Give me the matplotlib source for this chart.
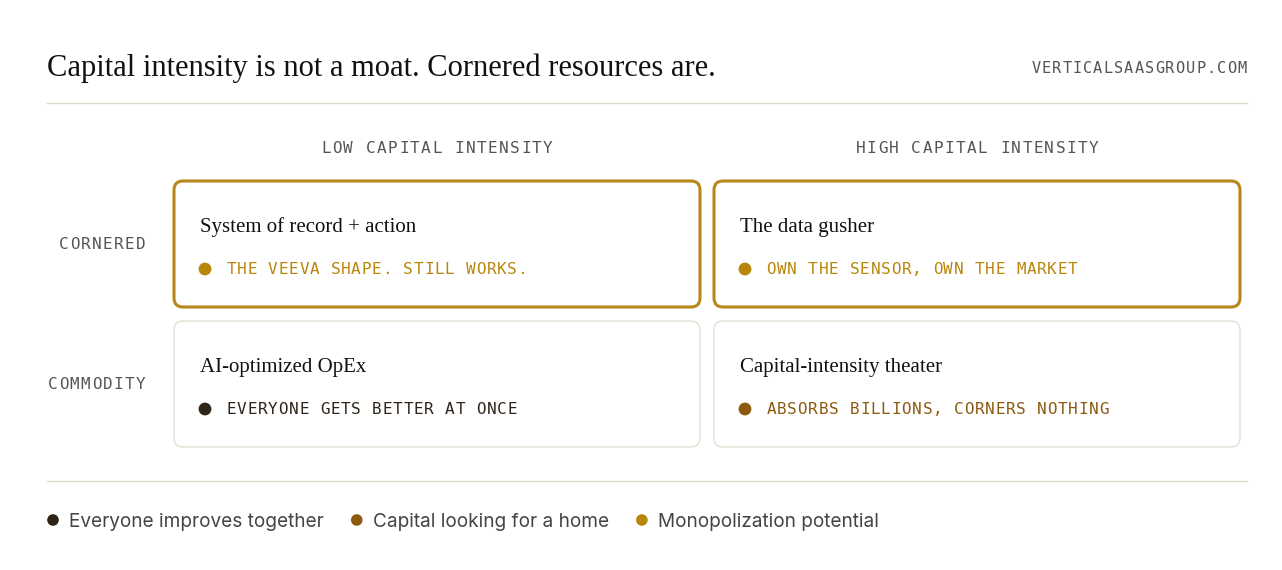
import matplotlib
matplotlib.use("Agg")
import matplotlib.pyplot as plt
from matplotlib.patches import FancyBboxPatch

# chart content
title = "Capital intensity is not a moat. Cornered resources are."
source = "VERTICALSAASGROUP.COM"
col_labels = ["LOW CAPITAL INTENSITY", "HIGH CAPITAL INTENSITY"]
row_labels = ["CORNERED", "COMMODITY"]
cell_titles = [["System of record + action", "The data gusher"],
               ["AI-optimized OpEx", "Capital-intensity theater"]]
cell_notes = [["THE VEEVA SHAPE. STILL WORKS.", "OWN THE SENSOR, OWN THE MARKET"],
              ["EVERYONE GETS BETTER AT ONCE", "ABSORBS BILLIONS, CORNERS NOTHING"]]
cell_kind = [[2, 2], [0, 1]]
legend_labels = ["Everyone improves together", "Capital looking for a home", "Monopolization potential"]
legend_colors = ["#2e2418", "#8b5a0f", "#b8860b"]

W, H = 1282, 570
SERIF = "Liberation Serif"
MONO = "DejaVu Sans Mono"
SANS = "Inter"
GOLD = "#b8861b"
RULE = "#dedbcc"

fig = plt.figure(figsize=(W / 100, H / 100), dpi=100)
ax = fig.add_axes([0, 0, 1, 1])
ax.set_xlim(0, W)
ax.set_ylim(H, 0)
ax.axis("off")


def spaced(x, y, s, step, size, color, ha="left"):
    # monospace text with letter spacing, one glyph at a time
    n = len(s)
    total = (n - 1) * step
    if ha == "center":
        x0 = x - total / 2
    elif ha == "right":
        x0 = x - total - step / 2
    else:
        x0 = x + step / 2
    for i, ch in enumerate(s):
        ax.text(x0 + i * step, y, ch, ha="center", va="baseline",
                fontsize=size, family=MONO, color=color)


# header
ax.text(47, 76, title, fontsize=22, family=SERIF, color="#111111", va="baseline")
spaced(1247, 73, source, 10.3, 11, "#555555", ha="right")
ax.plot([47, 1247], [103, 103], color=RULE, lw=1)
ax.plot([47, 1247], [481, 481], color=RULE, lw=1)

# grid
x0, cw, gap_x = 174, 526, 14
y0, ch_, gap_y = 181, 126, 14
for j, lab in enumerate(col_labels):
    spaced(x0 + j * (cw + gap_x) + cw / 2, 153, lab, 11.1, 11.5, "#555555", ha="center")
for i, lab in enumerate(row_labels):
    spaced(146, y0 + i * (ch_ + gap_y) + 68, lab, 11.0, 11.5, "#555555", ha="right")

for i in range(2):
    for j in range(2):
        bx = x0 + j * (cw + gap_x)
        by = y0 + i * (ch_ + gap_y)
        cornered = i == 0
        box = FancyBboxPatch((bx, by), cw, ch_,
                             boxstyle="round,pad=0,rounding_size=9",
                             facecolor="white",
                             edgecolor=GOLD if cornered else "#e2dfd3",
                             lw=2.2 if cornered else 1.0)
        ax.add_patch(box)
        ax.text(bx + 26, by + 51, cell_titles[i][j], fontsize=15, family=SERIF,
                color="#111111", va="baseline")
        col = legend_colors[cell_kind[i][j]]
        ax.scatter([bx + 31], [by + 88], s=85, color=col, edgecolors="none", zorder=3)
        spaced(bx + 52, by + 93, cell_notes[i][j], 10.4, 11.5, col)

# legend
fig.canvas.draw()
r = fig.canvas.get_renderer()
lx = 53
for lab, col in zip(legend_labels, legend_colors):
    ax.scatter([lx], [520], s=70, color=col, edgecolors="none")
    t = ax.text(lx + 16, 527, lab, fontsize=13.7, family=SANS, color="#444444", va="baseline")
    w = t.get_window_extent(renderer=r).width
    lx = lx + 16 + w + 33

fig.savefig("out.png", dpi=100, facecolor="white")
